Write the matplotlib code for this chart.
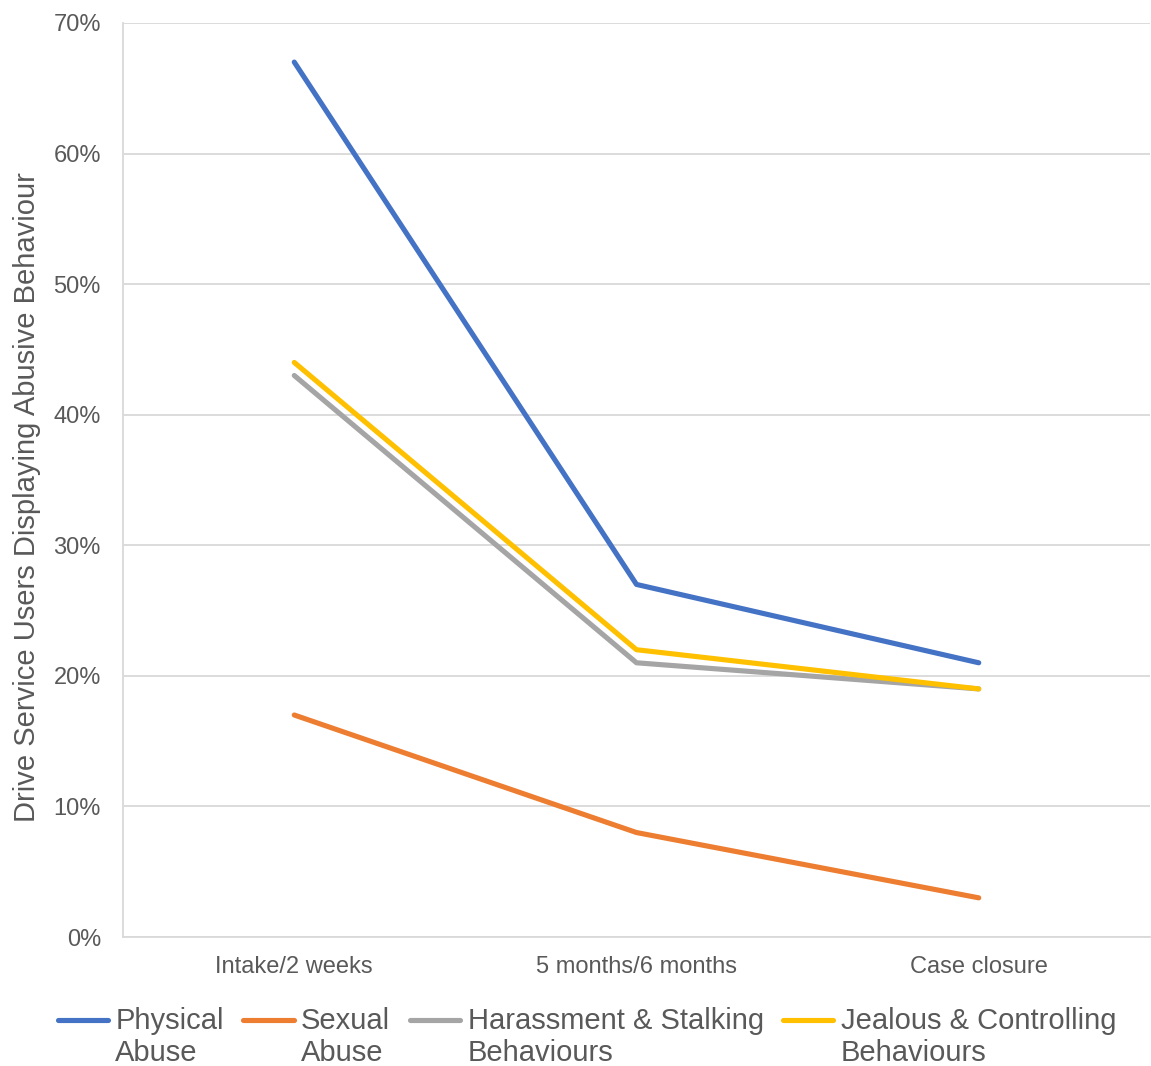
import matplotlib
matplotlib.use("Agg")
import matplotlib.pyplot as plt
import numpy as np
from matplotlib.legend_handler import HandlerLine2D
from matplotlib.ticker import FuncFormatter

plt.rcParams['font.family'] = ['Liberation Sans', 'DejaVu Sans']

categories = ["Intake/2 weeks", "5 months/6 months", "Case closure"]
physical = [67, 27, 21]
sexual = [17, 8, 3]
harassment = [43, 21, 19]
jealous = [44, 22, 19]
labels = ["Physical\nAbuse", "Sexual\nAbuse", "Harassment & Stalking\nBehaviours",
          "Jealous & Controlling\nBehaviours"]
colors = ["#4472C4", "#ED7D31", "#A5A5A5", "#FFC000"]

fig = plt.figure(figsize=(11.51, 10.66), dpi=100)
ax = fig.add_axes([0.107, 0.121, 0.892, 0.8575])

x = np.arange(len(categories))
series = [physical, sexual, harassment, jealous]
lines = []
for vals, c, lab in zip(series, colors, labels):
    ln, = ax.plot(x, vals, color=c, lw=3.7, solid_capstyle='round',
                  solid_joinstyle='round', label=lab)
    lines.append(ln)

ax.set_xlim(-0.5, 2.5)
ax.set_ylim(0, 70)
ax.set_yticks(np.arange(0, 71, 10))
ax.yaxis.set_major_formatter(FuncFormatter(lambda v, p: f"{int(v)}%"))
ax.set_xticks(x)
ax.set_xticklabels(categories)
ax.grid(axis='y', color='#D9D9D9', lw=1.3)
ax.set_axisbelow(True)
for s in ['top', 'right']:
    ax.spines[s].set_visible(False)
for s in ['left', 'bottom']:
    ax.spines[s].set_color('#D9D9D9')
    ax.spines[s].set_linewidth(1.3)
ax.tick_params(axis='both', length=0, colors='#595959', labelsize=17)
ax.tick_params(axis='y', pad=16)
ax.tick_params(axis='x', pad=14)
ax.set_ylabel("Drive Service Users Displaying Abusive Behaviour", fontsize=21,
              color='#595959')
ax.yaxis.set_label_coords(-0.080, 0.4814)


class TopHandler(HandlerLine2D):
    def create_artists(self, legend, orig_handle, xdescent, ydescent, width,
                       height, fontsize, trans):
        arts = super().create_artists(legend, orig_handle, xdescent, ydescent,
                                      width, height, fontsize, trans)
        for a in arts:
            a.set_ydata(np.asarray(a.get_ydata()) + 0.62 * fontsize)
        return arts


leg = fig.legend(handles=lines, loc='upper center', bbox_to_anchor=(0.5100, 0.0553),
                 ncol=4, frameon=False, fontsize=21, handlelength=1.72,
                 handletextpad=0.26, columnspacing=0.67, labelspacing=0.2,
                 borderpad=0, borderaxespad=0,
                 handler_map={matplotlib.lines.Line2D: TopHandler()})
for t in leg.get_texts():
    t.set_color('#595959')
    t.set_linespacing(1.2)

fig.savefig("out.png", dpi=100)
